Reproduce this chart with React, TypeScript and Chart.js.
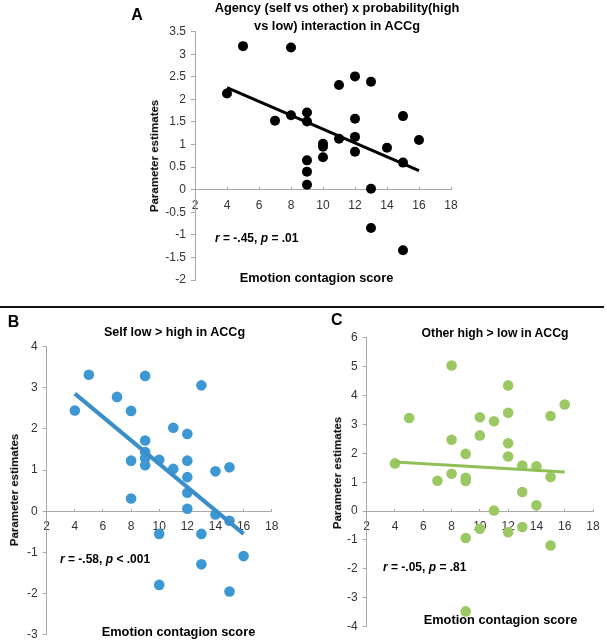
import React, { useEffect, useRef } from "react";
import { Chart, registerables } from "chart.js";
Chart.register(...registerables);

// ---------- Data ----------
const scoreTicks = [2, 4, 6, 8, 10, 12, 14, 16, 18];

// Panel A: Agency x probability interaction
const scoresA = [4, 5, 7, 8, 8, 9, 9, 9, 9, 9, 10, 10, 10, 11, 11, 12, 12, 12, 12, 13, 13, 13, 14, 15, 15, 15, 16];
const estimatesA = [2.13, 3.18, 1.53, 3.15, 1.65, 1.71, 1.51, 0.65, 0.4, 0.11, 1.02, 0.95, 0.72, 2.32, 1.13, 2.51, 1.57, 1.17, 0.84, 2.39, 0.02, -0.85, 0.93, 1.63, 0.6, -1.34, 1.1];
const trendScoresA = [4, 16];
const trendEstimatesA = [2.26, 0.42];
const yTicksA = [3.5, 3, 2.5, 2, 1.5, 1, 0.5, 0, -0.5, -1, -1.5, -2];

// Panel B: Self low > high
const scoresB = [4, 5, 7, 8, 8, 8, 9, 9, 9, 9, 9, 10, 10, 10, 11, 11, 12, 12, 12, 12, 12, 13, 13, 13, 14, 14, 15, 15, 15, 16];
const estimatesB = [2.45, 3.32, 2.78, 2.44, 1.23, 0.31, 3.29, 1.72, 1.44, 1.29, 1.12, 1.25, -0.55, -1.79, 2.03, 1.03, 1.88, 1.23, 0.83, 0.45, 0.06, 3.06, -0.55, -1.29, 0.97, -0.08, 1.07, -0.23, -1.95, -1.09];
const trendScoresB = [4, 16];
const trendEstimatesB = [2.86, -0.55];
const yTicksB = [4, 3, 2, 1, 0, -1, -2, -3];

// Panel C: Other high > low
const scoresC = [4, 5, 7, 8, 8, 8, 9, 9, 9, 9, 9, 10, 10, 10, 11, 11, 12, 12, 12, 12, 12, 13, 13, 13, 14, 14, 15, 15, 15, 16];
const estimatesC = [1.65, 3.22, 1.05, 5.04, 2.47, 1.29, 1.98, 1.15, 1.04, -0.93, -3.47, 3.25, 2.62, -0.61, 3.11, 0.02, 4.35, 3.4, 2.35, 1.89, -0.73, 1.58, 0.66, -0.55, 1.55, 0.2, 3.29, 1.18, -1.19, 3.69];
const trendScoresC = [4, 16];
const trendEstimatesC = [1.7, 1.35];
const yTicksC = [6, 5, 4, 3, 2, 1, 0, -1, -2, -3, -4];

// ---------- Styling ----------
const FONT = '"Liberation Sans", Arial, Helvetica, sans-serif';
const AXIS_COLOR = "#a8a8a8";
const TICK_COLOR = "#333333";

type PanelProps = {
  left: number;
  top: number;
  width: number;
  height: number;
  xs: number[];
  ys: number[];
  tx: number[];
  ty: number[];
  yTicks: number[];
  color: string;
  lineColor: string;
  lineWidth: number;
  pointRadius: number;
  padding: { left: number; right: number; top: number; bottom: number };
  yAxisWidth: number;
};

function ScatterPanel(p: PanelProps) {
  const ref = useRef<HTMLCanvasElement>(null);
  useEffect(() => {
    if (!ref.current) return;
    const points = p.xs.map((x, i) => ({ x, y: p.ys[i] }));
    const trend = p.tx.map((x, i) => ({ x, y: p.ty[i] }));
    const yMin = Math.min(...p.yTicks);
    const yMax = Math.max(...p.yTicks);
    const chart = new Chart(ref.current, {
      type: "scatter",
      data: {
        datasets: [
          {
            type: "line",
            data: trend,
            borderColor: p.lineColor,
            borderWidth: p.lineWidth,
            pointRadius: 0,
            fill: false,
            showLine: true,
            order: 0,
            clip: false,
          } as any,
          {
            data: points,
            backgroundColor: p.color,
            borderColor: p.color,
            borderWidth: 0,
            pointRadius: p.pointRadius,
            pointHoverRadius: p.pointRadius,
            order: 1,
            clip: false,
          } as any,
        ],
      },
      options: {
        animation: false,
        responsive: false,
        maintainAspectRatio: false,
        devicePixelRatio: 1,
        events: [],
        layout: { padding: p.padding },
        plugins: {
          legend: { display: false },
          tooltip: { enabled: false },
          title: { display: false },
        },
        scales: {
          x: {
            type: "linear",
            min: scoreTicks[0],
            max: scoreTicks[scoreTicks.length - 1],
            position: { y: 0 } as any,
            afterBuildTicks: (s: any) => {
              s.ticks = scoreTicks.map((v) => ({ value: v }));
            },
            ticks: {
              autoSkip: false,
              maxRotation: 0,
              padding: 11.5,
              color: TICK_COLOR,
              font: { family: FONT, size: 12 },
              callback: (v: any) => String(v),
            },
            grid: {
              drawOnChartArea: false,
              drawTicks: true,
              tickLength: -3,
              color: AXIS_COLOR,
            },
            border: { display: true, color: AXIS_COLOR, width: 1 },
            afterFit: (s: any) => {
              s.height = 0;
              s.paddingLeft = 0;
              s.paddingRight = 0;
            },
          } as any,
          y: {
            type: "linear",
            min: yMin,
            max: yMax,
            afterBuildTicks: (s: any) => {
              s.ticks = p.yTicks.map((v) => ({ value: v }));
            },
            ticks: {
              autoSkip: false,
              padding: 5,
              color: TICK_COLOR,
              font: { family: FONT, size: 12 },
              callback: (v: any) => String(v),
            },
            grid: {
              drawOnChartArea: false,
              drawTicks: true,
              tickLength: 4,
              color: AXIS_COLOR,
            },
            border: { display: true, color: AXIS_COLOR, width: 1 },
            afterFit: (s: any) => {
              s.width = p.yAxisWidth;
              s.paddingTop = 0;
              s.paddingBottom = 0;
            },
          } as any,
        },
      },
    });
    return () => chart.destroy();
  }, []);
  return (
    <canvas
      ref={ref}
      width={p.width}
      height={p.height}
      style={{ position: "absolute", left: p.left, top: p.top, width: p.width, height: p.height }}
    />
  );
}

function CText(props: { cx: number; cy: number; text: string; size: number; bold?: boolean; italic?: boolean; w?: number }) {
  const w = props.w ?? 400;
  const lh = props.size * 1.2;
  return (
    <div
      style={{
        position: "absolute",
        left: props.cx - w / 2,
        top: props.cy - lh / 2,
        width: w,
        height: lh,
        lineHeight: `${lh}px`,
        textAlign: "center",
        fontFamily: FONT,
        fontSize: props.size,
        fontWeight: props.bold ? 700 : 400,
        fontStyle: props.italic ? "italic" : "normal",
        color: "#000",
        whiteSpace: "nowrap",
      }}
    >
      {props.text}
    </div>
  );
}

function LText(props: { x: number; cy: number; children: React.ReactNode; size: number }) {
  const lh = props.size * 1.2;
  return (
    <div
      style={{
        position: "absolute",
        left: props.x,
        top: props.cy - lh / 2,
        height: lh,
        lineHeight: `${lh}px`,
        fontFamily: FONT,
        fontSize: props.size,
        fontWeight: 700,
        color: "#000",
        whiteSpace: "nowrap",
      }}
    >
      {props.children}
    </div>
  );
}

function VText(props: { cx: number; cy: number; text: string; size: number }) {
  const w = 200;
  const lh = props.size * 1.2;
  return (
    <div
      style={{
        position: "absolute",
        left: props.cx - w / 2,
        top: props.cy - lh / 2,
        width: w,
        height: lh,
        lineHeight: `${lh}px`,
        textAlign: "center",
        fontFamily: FONT,
        fontSize: props.size,
        fontWeight: 700,
        color: "#000",
        whiteSpace: "nowrap",
        transform: "rotate(-90deg)",
        transformOrigin: "50% 50%",
      }}
    >
      {props.text}
    </div>
  );
}

export default function App() {
  const BLUE = "#3d97d3";
  const BLUE_LINE = "#3b8fc9";
  const GREEN = "#9bc862";
  const GREEN_LINE = "#8fc058";
  return (
    <div style={{ position: "absolute", left: 0, top: 0, width: 607, height: 640, background: "#fff", overflow: "hidden" }}>
      {/* Panel A */}
      <ScatterPanel
        left={0}
        top={0}
        width={607}
        height={300}
        xs={scoresA}
        ys={estimatesA}
        tx={trendScoresA}
        ty={trendEstimatesA}
        yTicks={yTicksA}
        color="#000"
        lineColor="#000"
        lineWidth={3}
        pointRadius={5}
        padding={{ left: 155, right: 156, top: 31.7, bottom: 20 }}
        yAxisWidth={40}
      />
      <CText cx={137} cy={15} text="A" size={16} bold />
      <CText cx={337} cy={8} text="Agency (self vs other) x probability(high" size={12.8} bold />
      <CText cx={337} cy={25.5} text="vs low) interaction in ACCg" size={12.8} bold />
      <VText cx={155} cy={156} text="Parameter estimates" size={11.5} />
      <LText x={215} cy={238} size={12}>
        <i>r</i> = -.45, <i>p</i> = .01
      </LText>
      <CText cx={316.5} cy={278} text="Emotion contagion score" size={12.8} bold />

      <div style={{ position: "absolute", left: 0, top: 305.5, width: 604, height: 2, background: "#111" }} />

      {/* Panel B */}
      <ScatterPanel
        left={0}
        top={310}
        width={300}
        height={330}
        xs={scoresB}
        ys={estimatesB}
        tx={trendScoresB}
        ty={trendEstimatesB}
        yTicks={yTicksB}
        color={BLUE}
        lineColor={BLUE_LINE}
        lineWidth={4}
        pointRadius={5.3}
        padding={{ left: 6.7, right: 28.3, top: 36.7, bottom: 5 }}
        yAxisWidth={40}
      />
      <CText cx={13.5} cy={322} text="B" size={16} bold />
      <CText cx={174.5} cy={333} text="Self low > high in ACCg" size={12.6} bold />
      <VText cx={15} cy={490} text="Parameter estimates" size={11.5} />
      <LText x={60} cy={559} size={12}>
        <i>r</i> = -.58, <i>p</i> &lt; .001
      </LText>
      <CText cx={178.5} cy={632} text="Emotion contagion score" size={12.8} bold />

      {/* Panel C */}
      <ScatterPanel
        left={300}
        top={310}
        width={307}
        height={330}
        xs={scoresC}
        ys={estimatesC}
        tx={trendScoresC}
        ty={trendEstimatesC}
        yTicks={yTicksC}
        color={GREEN}
        lineColor={GREEN_LINE}
        lineWidth={3}
        pointRadius={5.3}
        padding={{ left: 26.7, right: 14, top: 27.7, bottom: 13.3 }}
        yAxisWidth={40}
      />
      <CText cx={336.7} cy={320} text="C" size={16} bold />
      <CText cx={495} cy={333} text="Other high > low in ACCg" size={12.2} bold />
      <VText cx={338} cy={473} text="Parameter estimates" size={11.5} />
      <LText x={383} cy={567} size={12}>
        <i>r</i> = -.05, <i>p</i> = .81
      </LText>
      <CText cx={500.5} cy={620} text="Emotion contagion score" size={12.8} bold />
    </div>
  );
}
